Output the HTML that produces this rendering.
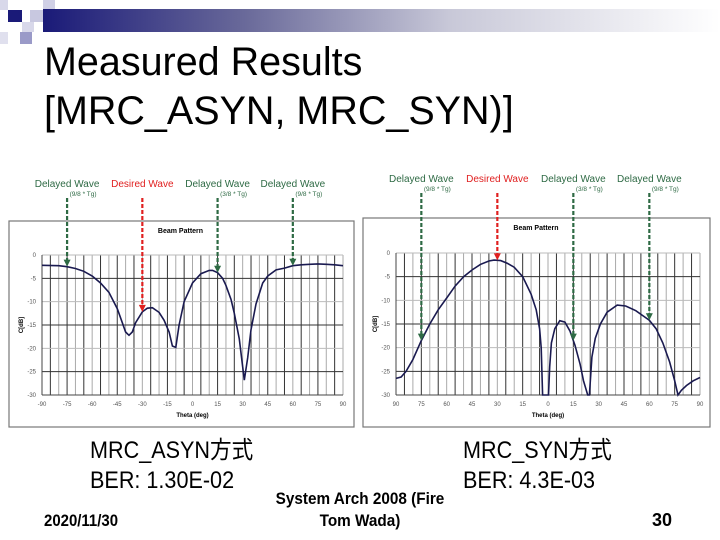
<!DOCTYPE html>
<html><head><meta charset="utf-8">
<style>
body{margin:0;background:#fff;}
#slide{position:relative;width:720px;height:540px;overflow:hidden;background:#fff;font-family:"Liberation Sans","Noto Sans CJK JP",sans-serif;}
.t{position:absolute;white-space:nowrap;color:#000;}
</style></head><body>
<div id="slide">
  <div style="position:absolute;left:43px;top:9px;width:677px;height:23px;background:linear-gradient(to right,#1a1a78,#6a6a9a 30%,#c8c8d8 60%,#fff 100%);"></div>
  <div style="position:absolute;left:8px;top:10px;width:14px;height:12px;background:#1a1a78;"></div>
  <div style="position:absolute;left:0;top:0;width:8px;height:10px;background:#d8d8ea;"></div>
  <div style="position:absolute;left:30px;top:10px;width:13px;height:12px;background:#c8c8e0;"></div>
  <div style="position:absolute;left:43px;top:0;width:12px;height:9px;background:#d0d0e6;"></div>
  <div style="position:absolute;left:22px;top:22px;width:12px;height:10px;background:#d8d8ea;"></div>
  <div style="position:absolute;left:20px;top:32px;width:12px;height:12px;background:#9a9ac8;"></div>
  <div style="position:absolute;left:0;top:32px;width:8px;height:12px;background:#e0e0ee;"></div>

  <div class="t" style="left:44px;top:38px;font-size:39.5px;line-height:49px;">Measured Results<br>[MRC_ASYN, MRC_SYN)]</div>

  <svg id="charts" width="720" height="540" style="position:absolute;left:0;top:0;"></svg>

  <div class="t" style="left:90px;top:436px;font-size:24px;line-height:30px;transform:scaleX(0.9);transform-origin:0 0;">MRC_ASYN方式<br>BER: 1.30E-02</div>
  <div class="t" style="left:463px;top:436px;font-size:24px;line-height:30px;transform:scaleX(0.9);transform-origin:0 0;">MRC_SYN方式<br>BER: 4.3E-03</div>
  <div class="t" style="left:44px;top:511px;font-size:17px;font-weight:bold;transform:scaleX(0.88);transform-origin:0 0;">2020/11/30</div>
  <div class="t" style="left:250px;top:488px;width:220px;text-align:center;font-size:17px;line-height:22px;font-weight:bold;transform:scaleX(0.9);transform-origin:110px 0;">System Arch 2008 (Fire<br>Tom Wada)</div>
  <div class="t" style="left:652px;top:510px;font-size:18px;font-weight:bold;">30</div>
</div>
<script>
// Left chart (MRC_ASYN) data
const asynTheta = [-90,-80,-75,-70,-65,-60,-55,-50,-45,-42,-40,-38,-36,-34,-30,-27,-24,-20,-17,-14,-12,-10,-8,-5,0,5,10,12,15,18,20,23,25,28,30,31,33,35,38,42,45,50,55,60,65,70,75,80,85,90];
const asynDb    = [-2.2,-2.3,-2.5,-2.9,-3.5,-4.5,-6,-8,-11.5,-14.5,-16.5,-17.2,-16.5,-14.5,-12.2,-11.4,-11.3,-12.3,-14,-16.5,-19.5,-19.8,-15,-10,-6,-4,-3.3,-3.3,-3.8,-5,-6.5,-9.5,-12.5,-18,-24,-26.8,-22,-16,-10.5,-6,-4.5,-3.2,-2.8,-2.3,-2.1,-2,-1.9,-2,-2.1,-2.3];
// Right chart (MRC_SYN) data
const synTheta = [-90,-87,-84,-80,-75,-70,-65,-60,-55,-50,-45,-40,-35,-32,-28,-24,-20,-15,-10,-7,-5,-4,-3.2,0.3,1,2,4,7,10,13,16,19,21,23.5,24.5,26,28,31,35,41,46,52,56,60,64,68,72,75,77,79,82,86,90];
const synDb    = [-26.5,-26.2,-25,-22.5,-18.5,-15,-12,-9.5,-7,-5,-3.6,-2.4,-1.7,-1.5,-1.6,-2.2,-3,-5,-8.7,-12,-16,-20,-30,-30,-24,-19,-16,-14.3,-14.6,-16.5,-19.5,-23.5,-27,-30,-30,-22,-18,-15,-12.5,-11,-11.2,-12.2,-13.2,-14.2,-16,-19,-23,-27,-30,-29,-28,-27,-26.3];
const xTicks = [-90,-75,-60,-45,-30,-15,0,15,30,45,60,75,90];
const yTicks = [0,-5,-10,-15,-20,-25,-30];
const arrowTheta = [-75,-30,15,60];
const arrowKind = ['delayed','desired','delayed','delayed'];
const arrowSub = ['(9/8 * Tg)','','(3/8 * Tg)','(9/8 * Tg)'];

const svg = document.getElementById('charts');
const NS = 'http://www.w3.org/2000/svg';
function mk(tag, attrs, parent){
  const e = document.createElementNS(NS, tag);
  for (const k in attrs) e.setAttribute(k, attrs[k]);
  (parent||svg).appendChild(e);
  return e;
}
function interp(th, xs, ys){
  for (let i=0;i<xs.length-1;i++){ if (th>=xs[i] && th<=xs[i+1]) return ys[i]+(ys[i+1]-ys[i])*(th-xs[i])/(xs[i+1]-xs[i]); }
  return ys[ys.length-1];
}
function drawChart(cfg){
  const g = mk('g', {});
  
  
  const x = t => cfg.px0 + (t+90)/180*(cfg.px1-cfg.px0);
  const y = v => cfg.py0 + (v/-30)*(cfg.py1-cfg.py0);
  const box = mk('rect', {x:cfg.bx0, y:cfg.by0, width:cfg.bx1-cfg.bx0, height:cfg.by1-cfg.by0, fill:'#fff', stroke:'#777', 'stroke-width':1.2}, g);
  
  
  for (let t=-90;t<=90;t+=5){
    const l = mk('line', {x1:x(t), x2:x(t), y1:y(0), y2:y(-30), stroke:(t%10===0)?'#aaa':'#333', 'stroke-width':1}, g);
    
    
  }
  yTicks.forEach((v,i) => {
    const l = mk('line', {x1:x(-90), x2:x(90), y1:y(v), y2:y(v), stroke:(i%2)?'#333':'#bbb', 'stroke-width':1}, g);
    
    
    const tx = mk('text', {x:x(-90)-6, y:y(v)+2, 'font-size':6, fill:'#555', 'text-anchor':'end'}, g);
    tx.textContent = v;
    
    
  });
  mk('line', {x1:x(-90), x2:x(-90), y1:y(0), y2:y(-30), stroke:'#444'}, g);
  mk('line', {x1:x(-90), x2:x(90), y1:y(-30), y2:y(-30), stroke:'#444'}, g);
  xTicks.forEach(t => {
    const tx = mk('text', {x:x(t), y:y(-30)+11, 'font-size':6, fill:'#555', 'text-anchor':'middle'}, g);
    tx.textContent = cfg.absTicks ? Math.abs(t) : t;
    
    
  });
  const ttl = mk('text', {x:(cfg.px0+cfg.px1)/2-12, y:cfg.by0+12, 'font-size':7, 'font-weight':'bold', 'text-anchor':'middle'}, g);
  ttl.textContent = 'Beam Pattern';
  
  
  const xt = mk('text', {x:(cfg.px0+cfg.px1)/2, y:y(-30)+22, 'font-size':6, 'font-weight':'bold', 'text-anchor':'middle'}, g);
  xt.textContent = 'Theta (deg)';
  
  
  const yt = mk('text', {x:0, y:0, 'font-size':6, 'font-weight':'bold', 'text-anchor':'middle', transform:`translate(${cfg.bx0+14},${(y(0)+y(-30))/2}) rotate(-90)`}, g);
  yt.textContent = 'C[dB]';
  
  
  let d = '';
  cfg.th.forEach((t,i) => { d += (i?'L':'M') + x(t).toFixed(1) + ' ' + y(Math.max(-30,cfg.db[i])).toFixed(1) + ' '; });
  const p = mk('path', {d:d, fill:'none', stroke:'#1a1a50', 'stroke-width':1.6}, g);
  
  
  arrowTheta.forEach((t,i) => {
    const col = arrowKind[i]==='desired' ? '#e02020' : '#2e6a44';
    const ax = x(t), ay = y(interp(t, cfg.th, cfg.db));
    const ln = mk('line', {x1:ax, x2:ax, y1:cfg.arrowTop, y2:ay-6, stroke:col, 'stroke-width':2.2, 'stroke-dasharray':'4 2'}, g);
    
    
    mk('polygon', {points:`${ax-3.5},${ay-7} ${ax+3.5},${ay-7} ${ax},${ay}`, fill:col}, g);
    const lb = mk('text', {x:ax, y:cfg.labelY, 'font-size':10, fill:col, 'text-anchor':'middle'}, g);
    lb.textContent = arrowKind[i]==='desired' ? 'Desired Wave' : 'Delayed Wave';
    
    
    if (arrowSub[i]){
      const sb = mk('text', {x:ax+16, y:cfg.labelY+9, 'font-size':6.5, fill:col, 'text-anchor':'middle'}, g);
      sb.textContent = arrowSub[i];
      
      
    }
  });
}
drawChart({name:'asyn-beam-chart', th:asynTheta, db:asynDb, px0:42, px1:343, py0:255, py1:395, bx0:9, bx1:354, by0:221, by1:427, labelY:187, arrowTop:198, absTicks:false});
drawChart({name:'syn-beam-chart', th:synTheta, db:synDb, px0:396, px1:700, py0:253, py1:395, bx0:363, bx1:710, by0:218, by1:427, labelY:182, arrowTop:193, absTicks:true});
</script>
</body></html>
